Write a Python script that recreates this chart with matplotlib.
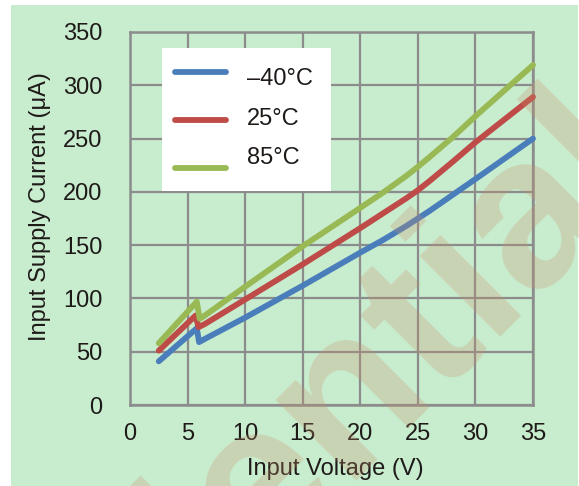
import matplotlib
matplotlib.use("Agg")
import matplotlib.pyplot as plt
from matplotlib.patches import Rectangle
from matplotlib.lines import Line2D

# input voltage (V) vs input supply current (uA)
v_cold = [2.5, 5.8, 6.0, 6.5, 10, 15, 20, 22, 24, 25, 26, 28, 30, 35]
i_cold = [41, 72, 59, 62, 82, 112, 143, 155, 168, 175, 182, 197, 212, 250]
v_room = [2.5, 5.7, 5.95, 6.5, 10, 15, 20, 22, 24, 25, 26, 28, 30, 35]
i_room = [51, 84, 73, 76, 99, 132, 166, 180, 194, 201.5, 210, 228, 246.5, 289]
v_hot = [2.5, 5.8, 6.05, 6.5, 10, 15, 20, 22, 24, 25, 26, 28, 30, 35]
i_hot = [58, 97, 81, 84, 111, 149, 185, 199.5, 215, 223.5, 232.5, 251, 271, 319]

labels = ["\u201340\u00b0C", "25\u00b0C", "85\u00b0C"]
colors = ["#4A7EBB", "#BE4B48", "#98B954"]
x_ticks = list(range(0, 40, 5))
y_ticks = list(range(0, 400, 50))

W, H = 579, 486
BG = "#C8ECCE"
GRID = "#8C8C8C"
TXT = "#1E1A18"

plt.rcParams["font.family"] = ["Liberation Sans", "DejaVu Sans"]


def fx(x):
    return x / W


def fy(y):
    return 1 - y / H


fig = plt.figure(figsize=(W / 100, H / 100), dpi=100)
fig.patch.set_facecolor("white")
fig.add_artist(Rectangle((fx(11), 0), fx(578) - fx(11), fy(5), transform=fig.transFigure,
                         facecolor=BG, edgecolor="none", zorder=-5))

ax = fig.add_axes([fx(130), fy(405), fx(533) - fx(130), fy(32) - fy(405)])
ax.set_facecolor("none")

series = [(v_cold, i_cold), (v_room, i_room), (v_hot, i_hot)]
for (v, i), c in zip(series, colors):
    ax.plot(v, i, color=c, lw=4.2, solid_capstyle="round", solid_joinstyle="round",
            clip_on=False, zorder=3)

ax.set_xlim(0, 35)
ax.set_ylim(0, 350)
ax.set_xticks(x_ticks)
ax.set_yticks(y_ticks)
ax.grid(True, color=GRID, lw=1.6)
ax.set_axisbelow(True)
for s in ax.spines.values():
    s.set_color(GRID)
    s.set_linewidth(1.8)
ax.tick_params(axis="x", length=0, pad=13, labelsize=17, labelcolor=TXT)
ax.tick_params(axis="y", length=0, pad=20, labelsize=17, labelcolor=TXT)

ax.set_xlabel("Input Voltage (V)", fontsize=17, color=TXT)
ax.xaxis.set_label_coords(0.51, -0.142)
ax.set_ylabel("Input Supply Current (\u03bcA)", fontsize=17, color=TXT)
ax.yaxis.set_label_coords(-0.195, 0.531)

# legend box, drawn by hand to sit where the original one does
fig.add_artist(Rectangle((fx(162), fy(191)), fx(331) - fx(162), fy(48) - fy(191),
                         transform=fig.transFigure, facecolor="white", edgecolor="none", zorder=4))
for lbl, c, ly, ty in zip(labels, colors, [72, 120, 168], [79, 119, 158]):
    fig.add_artist(Line2D([fx(175), fx(226)], [fy(ly), fy(ly)], transform=fig.transFigure,
                          color=c, lw=4.2, solid_capstyle="round", zorder=5))
    fig.text(fx(247), fy(ty), lbl, fontsize=17, color=TXT, va="center", ha="left", zorder=5)

# watermark
fig.text(fx(-222), fy(1051), "Confidential", rotation=45, rotation_mode="anchor",
         ha="left", va="baseline", fontsize=155, fontweight="bold",
         color="#C8906A", alpha=0.27, zorder=20)

fig.savefig("out.png", dpi=100)
